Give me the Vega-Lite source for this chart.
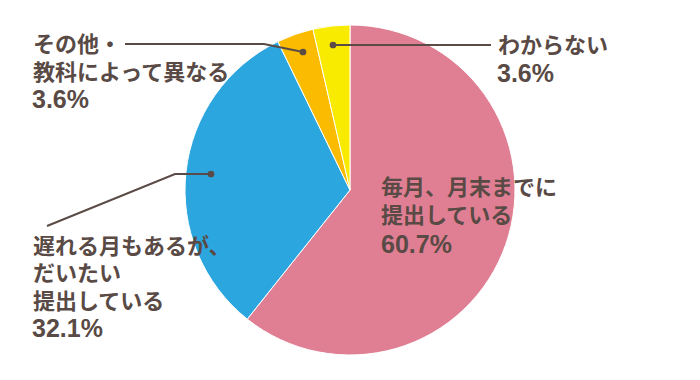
{
  "$schema": "https://vega.github.io/schema/vega-lite/v6.json",
  "width": 700,
  "height": 380,
  "autosize": {"type": "fit", "contains": "padding"},
  "padding": 0,
  "background": "white",
  "config": {"view": {"stroke": null}},
  "datasets": {
    "pie": [
      {"k": "毎月、月末までに提出している", "v": 60.7, "i": 1},
      {"k": "遅れる月もあるが、だいたい提出している", "v": 32.1, "i": 2},
      {"k": "その他・教科によって異なる", "v": 3.6, "i": 3},
      {"k": "わからない", "v": 3.6, "i": 4}
    ],
    "labels": [
      {"t": "その他・", "x": 33, "y": 45},
      {"t": "教科によって異なる", "x": 33, "y": 73},
      {"t": "わからない", "x": 498, "y": 46},
      {"t": "毎月、月末までに", "x": 381, "y": 188},
      {"t": "提出している", "x": 381, "y": 216},
      {"t": "遅れる月もあるが、", "x": 33, "y": 247},
      {"t": "だいたい", "x": 33, "y": 274},
      {"t": "提出している", "x": 33, "y": 302}
    ],
    "pcts": [
      {"t": "3.6%", "x": 32, "y": 100},
      {"t": "3.6%", "x": 497, "y": 74},
      {"t": "60.7%", "x": 381, "y": 245},
      {"t": "32.1%", "x": 32, "y": 329}
    ],
    "lines": [
      {"g": "a", "o": 1, "x": 125, "y": 44},
      {"g": "a", "o": 2, "x": 264, "y": 44},
      {"g": "a", "o": 3, "x": 303, "y": 52},
      {"g": "b", "o": 1, "x": 333, "y": 45},
      {"g": "b", "o": 2, "x": 491, "y": 45},
      {"g": "c", "o": 1, "x": 211, "y": 174},
      {"g": "c", "o": 2, "x": 175, "y": 174},
      {"g": "c", "o": 3, "x": 47, "y": 226}
    ],
    "dots": [
      {"x": 303, "y": 52},
      {"x": 333, "y": 45},
      {"x": 211, "y": 174}
    ]
  },
  "layer": [
    {
      "data": {"name": "pie"},
      "mark": {"type": "arc", "outerRadius": 165, "stroke": "white", "strokeWidth": 1},
      "encoding": {
        "theta": {"field": "v", "type": "quantitative", "stack": true},
        "order": {"field": "i", "type": "quantitative"},
        "color": {
          "field": "k",
          "type": "nominal",
          "legend": null,
          "scale": {
            "domain": ["毎月、月末までに提出している", "遅れる月もあるが、だいたい提出している", "その他・教科によって異なる", "わからない"],
            "range": ["#E07F93", "#2CA6DF", "#FBBB00", "#F9EB00"]
          }
        }
      }
    },
    {
      "data": {"name": "lines"},
      "mark": {"type": "line", "color": "#5A4B46", "strokeWidth": 2},
      "encoding": {
        "x": {"field": "x", "type": "quantitative", "scale": {"domain": [0, 700], "nice": false, "zero": false}, "axis": null},
        "y": {"field": "y", "type": "quantitative", "scale": {"domain": [0, 380], "nice": false, "zero": false, "reverse": true}, "axis": null},
        "detail": {"field": "g", "type": "nominal"},
        "order": {"field": "o", "type": "quantitative"}
      }
    },
    {
      "data": {"name": "dots"},
      "mark": {"type": "point", "filled": true, "color": "#5A4B46", "size": 45, "opacity": 1},
      "encoding": {
        "x": {"field": "x", "type": "quantitative"},
        "y": {"field": "y", "type": "quantitative"}
      }
    },
    {
      "data": {"name": "labels"},
      "mark": {"type": "text", "align": "left", "baseline": "middle", "font": "Noto Sans CJK JP", "fontSize": 22, "fontWeight": "bold", "color": "#594A45"},
      "encoding": {
        "x": {"field": "x", "type": "quantitative"},
        "y": {"field": "y", "type": "quantitative"},
        "text": {"field": "t", "type": "nominal"}
      }
    },
    {
      "data": {"name": "pcts"},
      "mark": {"type": "text", "align": "left", "baseline": "middle", "font": "Liberation Sans", "fontSize": 25, "fontWeight": "bold", "color": "#594A45"},
      "encoding": {
        "x": {"field": "x", "type": "quantitative"},
        "y": {"field": "y", "type": "quantitative"},
        "text": {"field": "t", "type": "nominal"}
      }
    }
  ]
}
